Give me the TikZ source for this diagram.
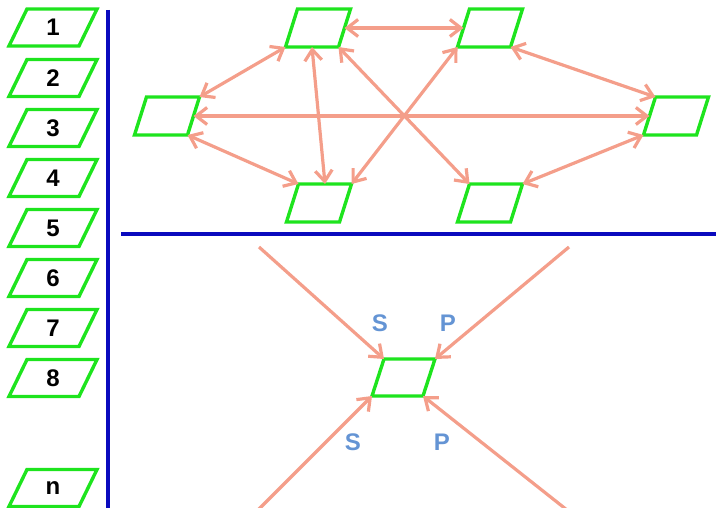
\documentclass[tikz,border=0pt]{standalone}
\usepackage{fontspec}
\setmainfont{Liberation Sans}
\usetikzlibrary{arrows.meta}
\definecolor{pgreen}{RGB}{30,228,30}
\definecolor{salmon}{RGB}{244,158,138}
\definecolor{dblue}{RGB}{10,10,190}
\definecolor{lblue}{RGB}{100,148,212}
\tikzset{
  pbase/.style={draw=none,rectangle,inner sep=0pt,outer sep=0pt},
  pline/.style={draw=pgreen,line width=3.4pt,line join=miter},
  numtext/.style={font=\fontsize{24}{24}\selectfont\bfseries},
  conn/.style={draw=salmon,line width=3.2pt,{Straight Barb[length=11pt,width=17pt,line width=3.2pt]}-{Straight Barb[length=11pt,width=17pt,line width=3.2pt]}},
  inarrow/.style={draw=salmon,line width=3.2pt,-{Straight Barb[length=11pt,width=17pt,line width=3.2pt]}},
  sep/.style={draw=dblue,line width=3.8pt},
  lab/.style={text=lblue,font=\fontsize{24}{24}\selectfont\bfseries}
}
% name, x, y, side width, height, half slant, text
\newcommand\pgm[7]{%
  \node[pbase,minimum width=#4pt,minimum height=#5pt,numtext] (#1) at (#2,#3) {#7};
  \coordinate (#1-bl) at ([xshift=-#6pt]#1.south west);
  \coordinate (#1-br) at ([xshift=-#6pt]#1.south east);
  \coordinate (#1-tr) at ([xshift=#6pt]#1.north east);
  \coordinate (#1-tl) at ([xshift=#6pt]#1.north west);
  \coordinate (#1-b) at ([xshift=-#6pt]#1.south);
  \coordinate (#1-t) at ([xshift=#6pt]#1.north);
  \draw[pline] (#1-bl) -- (#1-br) -- (#1-tr) -- (#1-tl) -- cycle;
}
\begin{document}
\begin{tikzpicture}[x=1pt,y=-1pt]
\useasboundingbox (0,0) rectangle (716,508);
% list
\pgm{l1}{53}{27.5}{70}{37}{9}{1}
\pgm{l2}{53}{78}{70}{37}{9}{2}
\pgm{l3}{53}{128}{70}{37}{9}{3}
\pgm{l4}{53}{178}{70}{37}{9}{4}
\pgm{l5}{53}{228}{70}{37}{9}{5}
\pgm{l6}{53}{278}{70}{37}{9}{6}
\pgm{l7}{53}{328}{70}{37}{9}{7}
\pgm{l8}{53}{378}{70}{37}{9}{8}
\pgm{ln}{53}{488}{70}{37}{9}{n}
% separators
\coordinate (v1) at (108,10);
\coordinate (v2) at (108,510);
\coordinate (h1) at (121,234);
\coordinate (h2) at (718,234);
\draw[sep] (v1) -- (v2);
\draw[sep] (h1) -- (h2);
% top graph
\pgm{A}{318}{28}{53}{38}{6}{}
\pgm{B}{167}{116}{53}{38}{6}{}
\pgm{C}{319}{203}{53}{38}{6}{}
\pgm{D}{490}{28}{53}{38}{6}{}
\pgm{E}{676}{116}{53}{38}{6}{}
\pgm{F}{490}{203}{53}{38}{6}{}
\draw[conn] (A.east) -- (D.west);
\draw[conn] (A-bl) -- (B-tr);
\draw[conn] (A-b) -- (C-t);
\draw[conn] (A-br) -- (F-tl);
\draw[conn] (C-tr) -- (D-bl);
\draw[conn] (B.east) -- (E.west);
\draw[conn] (B-br) -- (C-tl);
\draw[conn] (D-br) -- (E-tl);
\draw[conn] (E-bl) -- (F-tr);
% bottom
\pgm{G}{403.5}{377.5}{51}{37}{6}{}
\coordinate (s1) at (259,247);
\coordinate (s2) at (569,247);
\coordinate (s3) at (258,510);
\coordinate (s4) at (567,510);
\draw[inarrow] (s1) -- (G-tl);
\draw[inarrow] (s2) -- (G-tr);
\draw[inarrow] (s3) -- (G-bl);
\draw[inarrow] (s4) -- (G-br);
\node[lab] (t1) at (380,323) {S};
\node[lab] (t2) at (448,323) {P};
\node[lab] (t3) at (353,442) {S};
\node[lab] (t4) at (442,442) {P};
\end{tikzpicture}
\end{document}
